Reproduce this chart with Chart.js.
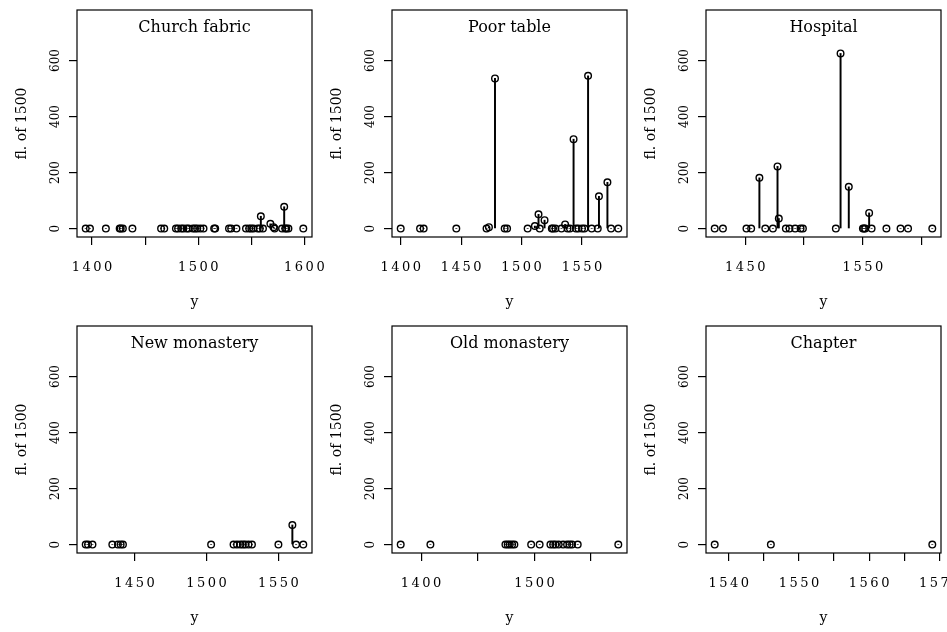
<!DOCTYPE html>
<html>
<head>
<meta charset="utf-8">
<script src="https://cdn.jsdelivr.net/npm/chart.js@4.4.0/dist/chart.umd.min.js"></script>
<style>
  html, body { margin: 0; padding: 0; background: #fff; }
  #wrap { position: relative; width: 947px; height: 632px; overflow: hidden; }
  #wrap canvas { position: absolute; left: 0; top: 0; }
</style>
</head>
<body>
<div id="wrap"></div>
<script>
/* datos de cada panel */
const titles = ["Church fabric", "Poor table", "Hospital", "New monastery", "Old monastery", "Chapter"];

const churchYears = [1394, 1398, 1413, 1426, 1427, 1429, 1438, 1465, 1468, 1479, 1481, 1484, 1486, 1489, 1491, 1495, 1497, 1499, 1502, 1505, 1515, 1516, 1529, 1531, 1536, 1545, 1548, 1550, 1552, 1556, 1558, 1559, 1561, 1568, 1571, 1572, 1579, 1581, 1582, 1583, 1585, 1599];
const churchFl    = [0, 0, 0, 0, 0, 0, 0, 0, 0, 0, 0, 0, 0, 0, 0, 0, 0, 0, 0, 0, 0, 0, 0, 0, 0, 0, 0, 0, 0, 0, 0, 44, 0, 17, 5, 0, 0, 78, 0, 0, 0, 0];

const poorYears = [1400, 1416, 1419, 1446, 1471, 1473, 1478, 1486, 1488, 1505, 1511, 1514, 1515, 1519, 1525, 1526, 1528, 1533, 1536, 1538, 1540, 1543, 1545, 1547, 1550, 1552, 1555, 1558, 1563, 1564, 1571, 1574, 1580];
const poorFl    = [0, 0, 0, 0, 0, 5, 536, 0, 0, 0, 9, 51, 0, 30, 0, 0, 0, 0, 15, 0, 0, 319, 0, 0, 0, 0, 545, 0, 0, 115, 165, 0, 0];

const hospYears = [1424, 1431, 1451, 1455, 1462, 1467, 1473.5, 1477.4, 1478.5, 1484.5, 1487.6, 1492.4, 1497, 1499, 1527, 1531, 1538, 1550, 1551, 1552, 1555.3, 1557.4, 1570, 1582, 1588.4, 1609];
const hospFl    = [0, 0, 0, 0, 181, 0, 0, 222, 36, 0, 0, 0, 0, 0, 0, 625, 149, 0, 0, 0, 56, 0, 0, 0, 0, 0];

const newMonYears = [1416, 1417.6, 1420.7, 1434.5, 1438.4, 1440.3, 1441.9, 1503.2, 1518.8, 1521.2, 1523.5, 1525.3, 1526.9, 1529.2, 1531.6, 1550, 1559.7, 1562.3, 1567.3];
const newMonFl    = [0, 0, 0, 0, 0, 0, 0, 0, 0, 0, 0, 0, 0, 0, 0, 0, 70, 0, 0];

const oldMonYears = [1382, 1408.2, 1474.4, 1476.4, 1478.2, 1480.3, 1482.3, 1497.1, 1504.6, 1514.1, 1516.5, 1518.5, 1521.4, 1525.3, 1528.8, 1531.1, 1533.2, 1538.2, 1574];
const oldMonFl    = [0, 0, 0, 0, 0, 0, 0, 0, 0, 0, 0, 0, 0, 0, 0, 0, 0, 0, 0];

const chapterYears = [1538, 1546, 1569];
const chapterFl    = [0, 0, 0];

/* marcas de los ejes */
const xTicksPanel = [
  [1400, 1450, 1500, 1550, 1600],
  [1400, 1450, 1500, 1550],
  [1450, 1500, 1550, 1600],
  [1450, 1500, 1550],
  [1400, 1450, 1500, 1550],
  [1540, 1545, 1550, 1555, 1560, 1565, 1570]
];
const xLabelsPanel = [
  ["1400", "", "1500", "", "1600"],
  ["1400", "1450", "1500", "1550"],
  ["1450", "", "1550", ""],
  ["1450", "1500", "1550"],
  ["1400", "", "1500", ""],
  ["1540", "", "1550", "", "1560", "", "1570"]
];
const yTicks = [0, 200, 400, 600];
const yLabels = ["0", "200", "400", "600"];
const yLimits = [0, 750];
const xTitle = "y";
const yTitle = "fl. of 1500";

const panelYears = [churchYears, poorYears, hospYears, newMonYears, oldMonYears, chapterYears];
const panelFl = [churchFl, poorFl, hospFl, newMonFl, oldMonFl, chapterFl];

/* posicion de las cajas */
const W = 947, H = 632;
const boxLeft = [77, 392, 706];
const boxTop = [10, 326];
const boxW = 235, boxH = 227;

const serif = '"DejaVu Serif", serif';
const wrap = document.getElementById("wrap");

const marcoPlugin = (i) => ({
  id: "marco" + i,
  afterDraw(chart) {
    const ctx = chart.ctx;
    const ca = chart.chartArea;
    const sx = chart.scales.x, sy = chart.scales.y;
    ctx.save();
    ctx.strokeStyle = "#000";
    ctx.lineWidth = 1.2;
    ctx.strokeRect(ca.left, ca.top, ca.right - ca.left, ca.bottom - ca.top);

    ctx.fillStyle = "#000";
    // titulo dentro del panel
    ctx.font = "16px " + serif;
    ctx.textAlign = "center";
    ctx.textBaseline = "alphabetic";
    ctx.fillText(titles[i], (ca.left + ca.right) / 2, ca.top + 22);

    // etiquetas del eje x
    ctx.font = "13px " + serif;
    ctx.letterSpacing = "2.5px";
    ctx.textBaseline = "middle";
    xTicksPanel[i].forEach((v, k) => {
      const lab = xLabelsPanel[i][k];
      if (lab) ctx.fillText(lab, sx.getPixelForValue(v) + 1.25, ca.bottom + 31);
    });
    ctx.letterSpacing = "0px";

    // titulo eje x
    ctx.font = "14px " + serif;
    ctx.textBaseline = "alphabetic";
    ctx.fillText(xTitle, (ca.left + ca.right) / 2, ca.bottom + 69);

    // etiquetas del eje y (verticales)
    ctx.font = "12px " + serif;
    ctx.textBaseline = "middle";
    yTicks.forEach((v, k) => {
      ctx.save();
      ctx.translate(ca.left - 21.5, sy.getPixelForValue(v));
      ctx.rotate(-Math.PI / 2);
      ctx.fillText(yLabels[k], 0, 0);
      ctx.restore();
    });

    // titulo eje y
    ctx.font = "14px " + serif;
    ctx.save();
    ctx.translate(ca.left - 55, (sy.getPixelForValue(yLimits[0]) + sy.getPixelForValue(yLimits[1])) / 2);
    ctx.rotate(-Math.PI / 2);
    ctx.fillText(yTitle, 0, 0);
    ctx.restore();
    ctx.restore();
  }
});

const crearPanel = (i) => {
  const col = i % 3, row = Math.floor(i / 3);
  const L = boxLeft[col], T = boxTop[row];
  const cv = document.createElement("canvas");
  cv.width = W;
  cv.height = H;
  wrap.appendChild(cv);

  const years = panelYears[i], fl = panelFl[i];
  const lo = Math.min(...years), hi = Math.max(...years);
  const ext = (hi - lo) * 0.04;
  const yext = (yLimits[1] - yLimits[0]) * 0.04;
  const puntos = years.map((y, k) => ({ x: y, y: fl[k] }));

  new Chart(cv, {
    type: "bar",
    data: {
      datasets: [
        { type: "bar", data: puntos, backgroundColor: "#000", borderWidth: 0, barThickness: 1.3 },
        { type: "scatter", data: puntos, pointStyle: "circle", pointRadius: 3.3, pointBorderWidth: 1.4,
          borderColor: "#000", backgroundColor: "rgba(0,0,0,0)", pointBackgroundColor: "rgba(0,0,0,0)" }
      ]
    },
    options: {
      responsive: false,
      animation: false,
      events: [],
      layout: { padding: { left: L, top: T, right: W - L - boxW, bottom: H - T - boxH } },
      plugins: { legend: { display: false }, tooltip: { enabled: false } },
      scales: {
        x: {
          type: "linear", min: lo - ext, max: hi + ext, offset: false,
          grid: { offset: false, drawOnChartArea: false, drawTicks: true, tickLength: 8, color: "#000", lineWidth: 1.2 },
          border: { display: false },
          ticks: { display: false },
          afterBuildTicks: (s) => { s.ticks = xTicksPanel[i].map((v) => ({ value: v })); },
          afterFit: (s) => { s.height = 0; }
        },
        y: {
          type: "linear", min: yLimits[0] - yext, max: yLimits[1] + yext,
          grid: { drawOnChartArea: false, drawTicks: true, tickLength: 8, color: "#000", lineWidth: 1.2 },
          border: { display: false },
          ticks: { display: false },
          afterBuildTicks: (s) => { s.ticks = yTicks.map((v) => ({ value: v })); },
          afterFit: (s) => { s.width = 0; }
        }
      }
    },
    plugins: [marcoPlugin(i)]
  });
};

for (let i = 0; i < 6; i++) crearPanel(i);
</script>
</body>
</html>
